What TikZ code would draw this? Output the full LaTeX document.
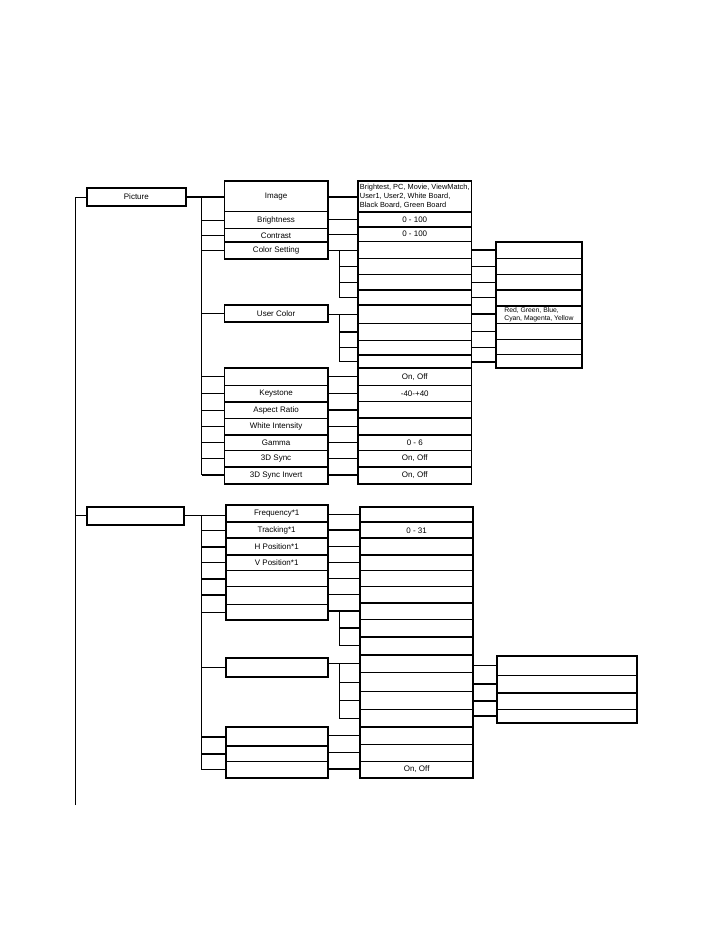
\documentclass[tikz,border=0pt]{standalone}
\usepackage{fontspec}
\setmainfont{Liberation Sans}
\tikzset{
  thn/.style={line width=0.8pt},
  thk/.style={line width=1.9pt},
  cellb/.style={draw, line width=0.8pt, inner sep=0pt, outer sep=0pt,
    font=\fontsize{8}{9.6}\selectfont},
  thkbox/.style={line width=1.9pt},
  optsmall/.style={align=left, font=\fontsize{7.4}{9}\selectfont},
  colsmall/.style={align=left, font=\fontsize{6.8}{8.3}\selectfont},
}
\newcommand\cellbox[6][]{%
  \node[cellb, minimum width={#5-#3}, minimum height={#6-#4}, #1] (#2)
    at ({(#3+#5)/2},{(#4+#6)/2}) {\cellcontent};}
\newcommand\cellcontent{}
\newcommand\cb[7][]{\renewcommand\cellcontent{#7}\cellbox[#1]{#2}{#3}{#4}{#5}{#6}}
\begin{document}
\begin{tikzpicture}[x=1pt,y=-1pt]
\useasboundingbox (0,0) rectangle (721,937);

% ---------- column 1 ----------
\cb[thkbox]{pic}{87}{188.3}{185.7}{205.7}{Picture}
\cb[thkbox]{bb}{87.3}{506.7}{184.3}{525}{}

% ---------- column 2, picture group ----------
\cb{img}{224.5}{181}{327.7}{211.7}{Image}
\cb{bri}{224.5}{211.7}{327.7}{228.3}{Brightness}
\cb{con}{224.5}{228.3}{327.7}{242.3}{Contrast}
\cb{cs}{224.5}{242.3}{327.7}{259}{Color Setting}
\cb[thkbox]{uc}{224.5}{305}{327.7}{322.3}{User Color}
\cb{pa}{224.5}{368.3}{327.7}{385}{}
\cb{key}{224.5}{385}{327.7}{401.7}{Keystone}
\cb{asp}{224.5}{401.7}{327.7}{418.3}{Aspect Ratio}
\cb{wi}{224.5}{418.3}{327.7}{435}{White Intensity}
\cb{gam}{224.5}{435}{327.7}{450}{Gamma}
\cb{sd}{224.5}{450}{327.7}{466.7}{3D Sync}
\cb{si}{224.5}{466.7}{327.7}{484}{3D Sync Invert}

% ---------- column 3, picture group ----------
\cb[optsmall]{oa}{358}{181}{471.5}{212.3}{Brightest, PC, Movie, ViewMatch,\\User1, User2, White Board,\\Black Board, Green Board}
\cb{ob}{358}{212.3}{471.5}{226.7}{0 - 100}
\cb{oc}{358}{226.7}{471.5}{241.7}{0 - 100}
\cb{od}{358}{241.7}{471.5}{258.3}{}
\cb{oe}{358}{258.3}{471.5}{274.3}{}
\cb{of}{358}{274.3}{471.5}{290}{}
\cb{og}{358}{290}{471.5}{305}{}
\cb{oh}{358}{305}{471.5}{323.3}{}
\cb{oi}{358}{323.3}{471.5}{340}{}
\cb{oj}{358}{340}{471.5}{355}{}
\cb{ok}{358}{355}{471.5}{368.3}{}
\cb{ol}{358}{368.3}{471.5}{385}{On, Off}
\cb{om}{358}{385}{471.5}{401.7}{-40-+40}
\cb{on}{358}{401.7}{471.5}{418.3}{}
\cb{oo}{358}{418.3}{471.5}{435}{}
\cb{op}{358}{435}{471.5}{450}{0 - 6}
\cb{oq}{358}{450}{471.5}{466.7}{On, Off}
\cb{os}{358}{466.7}{471.5}{484}{On, Off}

% ---------- column 4, picture group ----------
\cb{da}{495.7}{241.7}{582.3}{258.3}{}
\cb{db}{495.7}{258.3}{582.3}{274}{}
\cb{dc}{495.7}{274}{582.3}{290}{}
\cb{dd}{495.7}{290}{582.3}{305.7}{}
\cb[colsmall]{de}{495.7}{305.7}{582.3}{323.3}{Red, Green, Blue,\\Cyan, Magenta, Yellow}
\cb{df}{495.7}{323.3}{582.3}{339.3}{}
\cb{dg}{495.7}{339.3}{582.3}{354.3}{}
\cb{dh}{495.7}{354.3}{582.3}{368.3}{}

% ---------- column 2, second group ----------
\cb{fa}{225.7}{505}{327.7}{522.3}{Frequency*1}
\cb{fb}{225.7}{522.3}{327.7}{538.3}{Tracking*1}
\cb{fc}{225.7}{538.3}{327.7}{555}{H Position*1}
\cb{fd}{225.7}{555}{327.7}{570.7}{V Position*1}
\cb{fe}{225.7}{570.7}{327.7}{586.7}{}
\cb{ff}{225.7}{586.7}{327.7}{604}{}
\cb{fg}{225.7}{604}{327.7}{620}{}
\cb[thkbox]{fh}{225.7}{658.3}{327.7}{677.3}{}
\cb{fi}{225.7}{727.3}{327.7}{746}{}
\cb{fj}{225.7}{746}{327.7}{761.7}{}
\cb{fk}{225.7}{761.7}{327.7}{777.7}{}

% ---------- column 3, second group ----------
\cb{qa}{360}{506.7}{473.3}{522.3}{}
\cb{qb}{360}{522.3}{473.3}{538.3}{0 - 31}
\cb{qc}{360}{538.3}{473.3}{555}{}
\cb{qd}{360}{555}{473.3}{570.7}{}
\cb{qe}{360}{570.7}{473.3}{586.7}{}
\cb{qf}{360}{586.7}{473.3}{602.7}{}
\cb{qg}{360}{602.7}{473.3}{619.3}{}
\cb{qh}{360}{619.3}{473.3}{636.7}{}
\cb{qi}{360}{636.7}{473.3}{655}{}
\cb{qj}{360}{655}{473.3}{672.3}{}
\cb{qk}{360}{672.3}{473.3}{691.7}{}
\cb{ql}{360}{691.7}{473.3}{709.3}{}
\cb{qm}{360}{709.3}{473.3}{726.7}{}
\cb{qn}{360}{726.7}{473.3}{744.3}{}
\cb{qo}{360}{744.3}{473.3}{761}{}
\cb{qp}{360}{761}{473.3}{777.7}{On, Off}

% ---------- column 4, second group ----------
\cb{ra}{497.3}{656}{637.3}{675}{}
\cb{rb}{497.3}{675}{637.3}{692.7}{}
\cb{rc}{497.3}{692.7}{637.3}{709.3}{}
\cb{rd}{497.3}{709.3}{637.3}{723.3}{}

% ---------- thick outlines and dividers ----------
\draw[thk] (img.north west) rectangle (cs.south east);
\draw[thk] (con.south west) -- (con.south east);
\draw[thk] (pa.north west) rectangle (si.south east);
\foreach \n in {key,wi,sd} \draw[thk] (\n.south west) -- (\n.south east);
\draw[thk] (oa.north west) rectangle (os.south east);
\foreach \n in {oa,ob,of,og,oj,ok,on,oo,oq} \draw[thk] (\n.south west) -- (\n.south east);
\draw[thk] (da.north west) rectangle (dh.south east);
\foreach \n in {dc,dd} \draw[thk] (\n.south west) -- (\n.south east);
\draw[thk] (fa.north west) rectangle (fg.south east);
\foreach \n in {fa,fb,fc} \draw[thk] (\n.south west) -- (\n.south east);
\draw[thk] (fi.north west) rectangle (fk.south east);
\draw[thk] (fi.south west) -- (fi.south east);
\draw[thk] (qa.north west) rectangle (qp.south east);
\foreach \n in {qa,qb,qc,qf,qh,qi,qm} \draw[thk] (\n.south west) -- (\n.south east);
\draw[thk] (ra.north west) rectangle (rd.south east);
\draw[thk] (rb.south west) -- (rb.south east);

% ---------- trunks ----------
\coordinate (Lend) at (75.7,805);
\coordinate (P) at (201.5,0);
\coordinate (S) at (339.5,0);
\draw[thn] (Lend) |- (pic.west);
\draw[thn] (Lend |- bb.west) -- (bb.west);

% picture group
\draw[thk] (pic.east) -- (pic.east -| img.west);
\draw[thn] (P |- pic.east) -- (P |- si.west);
\foreach \n in {bri,con,cs,uc,pa,key,asp,wi,gam,sd} \draw[thn] (P |- \n.west) -- (\n.west);
\draw[thk] (P |- si.west) -- (si.west);

\draw[thk] (img.east |- oa.west) -- (oa.west);
\draw[thn] (bri.east |- ob.west) -- (ob.west);
\draw[thn] (con.east |- oc.west) -- (oc.west);
\draw[thn] (cs.east |- od.west) -- (od.west);
\draw[thn] (S |- od.west) |- (og.west);
\draw[thn] (S |- oe.west) -- (oe.west);
\draw[thn] (S |- of.west) -- (of.west);
\draw[thn] (uc.east |- oh.west) -- (oh.west);
\draw[thk] (S |- oh.west) -- (S |- ok.west);
\draw[thk] (S |- oi.west) -- (oi.west);
\draw[thn] (S |- oj.west) -- (oj.west);
\draw[thn] (S |- ok.west) -- (ok.west);
\draw[thn] (pa.east |- ol.west) -- (ol.west);
\draw[thn] (key.east |- om.west) -- (om.west);
\draw[thk] (asp.east |- on.west) -- (on.west);
\draw[thn] (wi.east |- oo.west) -- (oo.west);
\draw[thn] (gam.east |- op.west) -- (op.west);
\draw[thn] (sd.east |- oq.west) -- (oq.west);
\draw[thk] (si.east |- os.west) -- (os.west);

\draw[thk] (od.east) -- (od.east -| da.west);
\draw[thn] (oe.east) -- (oe.east -| db.west);
\draw[thn] (of.east) -- (of.east -| dc.west);
\draw[thn] (og.east) -- (og.east -| dd.west);
\draw[thk] (oh.east) -- (oh.east -| de.west);
\draw[thn] (oi.east) -- (oi.east -| df.west);
\draw[thn] (oj.east) -- (oj.east -| dg.west);
\draw[thk] (ok.east) -- (ok.east -| dh.west);

% second group
\draw[thn] (bb.east) -- (bb.east -| fa.west);
\draw[thn] (P |- bb.east) -- (P |- fk.west);
\foreach \n in {fb,fd,fg,fh,fk} \draw[thn] (P |- \n.west) -- (\n.west);
\foreach \n in {fc,fe,ff,fi,fj} \draw[thk] (P |- \n.west) -- (\n.west);

\draw[thn] (fa.east |- qa.west) -- (qa.west);
\draw[thk] (fb.east |- qb.west) -- (qb.west);
\draw[thn] (fc.east |- qc.west) -- (qc.west);
\draw[thn] (fd.east |- qd.west) -- (qd.west);
\draw[thn] (fe.east |- qe.west) -- (qe.west);
\draw[thn] (ff.east |- qf.west) -- (qf.west);
\draw[thk] (fg.east |- qg.west) -- (qg.west);
\draw[thk] (S |- qg.west) -- (S |- qi.west);
\draw[thk] (S |- qh.west) -- (qh.west);
\draw[thn] (S |- qi.west) -- (qi.west);
\draw[thn] (fh.east |- qj.west) -- (qj.west);
\draw[thn] (S |- qj.west) |- (qm.west);
\draw[thn] (S |- qk.west) -- (qk.west);
\draw[thn] (S |- ql.west) -- (ql.west);
\draw[thn] (fi.east |- qn.west) -- (qn.west);
\draw[thn] (fj.east |- qo.west) -- (qo.west);
\draw[thk] (fk.east |- qp.west) -- (qp.west);

\draw[thk] (qj.east |- ra.west) -- (ra.west);
\draw[thk] (qk.east |- rb.west) -- (rb.west);
\draw[thk] (ql.east |- rc.west) -- (rc.west);
\draw[thk] (qm.east |- rd.west) -- (rd.west);
\end{tikzpicture}
\end{document}
